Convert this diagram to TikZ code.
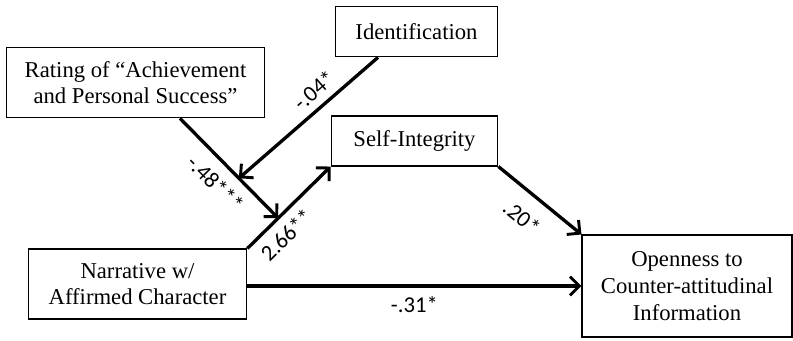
\documentclass[tikz,border=0pt]{standalone}
\usepackage{fontspec}
\setmainfont{Liberation Serif}
\newfontfamily\coeffont{Carlito}
\usetikzlibrary{arrows.meta, positioning, calc}

\begin{document}
\begin{tikzpicture}[x=0.75pt, y=-0.75pt,
  varbox/.style={draw, line width=0.8pt, align=center, inner sep=2pt, font=\fontsize{17}{20}\selectfont},
  link/.style={line width=2.5pt, -{Straight Barb[length=7pt, width=14pt, line width=2.2pt]}},
  coef/.style={font=\coeffont\fontsize{17}{17}\selectfont, sloped, inner sep=0pt}]
  \useasboundingbox (0,0) rectangle (793,341);

  % variables
  \node[varbox, minimum width=122pt, minimum height=38pt] (ident) at (416.5,31.5) {Identification};
  \node[varbox, minimum width=193pt, minimum height=53pt] (rating) at (135.5,82.5) {Rating of ``Achievement\\and Personal Success''};
  \node[varbox, minimum width=125pt, minimum height=37.5pt] (self) at (414.5,141) {Self-Integrity};
  \node[varbox, minimum width=164pt, minimum height=52.5pt] (narr) at (137.5,284) {Narrative w/\\Affirmed Character};
  \node[varbox, minimum width=157.5pt, minimum height=76.5pt] (open) at (687,286) {Openness to\\Counter-attitudinal\\Information};

  % moderation points
  \coordinate (ratingout) at ($(rating.south)+(44.5,0)$);
  \coordinate (identout) at ($(ident.south)+(-38.5,0)$);
  \coordinate (modA) at ($(narr.north east)!0.37!(self.south west)$);
  \coordinate (modB) at ($(ratingout)!0.6!(modA)$);

  % paths
  \draw[link] (narr.north east) -- node[coef, below=6pt, pos=0.32] {2.66**} (self.south west);
  \draw[link] (self.south east) -- node[coef, below=11pt, pos=0.47] {.20*} (open.north west);
  \draw[link] (narr.east |- 0,286) -- node[coef, below=6.5pt, pos=0.5] {-.31*} (open.west |- 0,286);
  \draw[link] (ratingout) -- node[coef, below=8pt, pos=0.51] {-.48***} (modA);
  \draw[link] (identout) -- node[coef, above=5.5pt, pos=0.38] {-.04*} (modB);
\end{tikzpicture}
\end{document}
